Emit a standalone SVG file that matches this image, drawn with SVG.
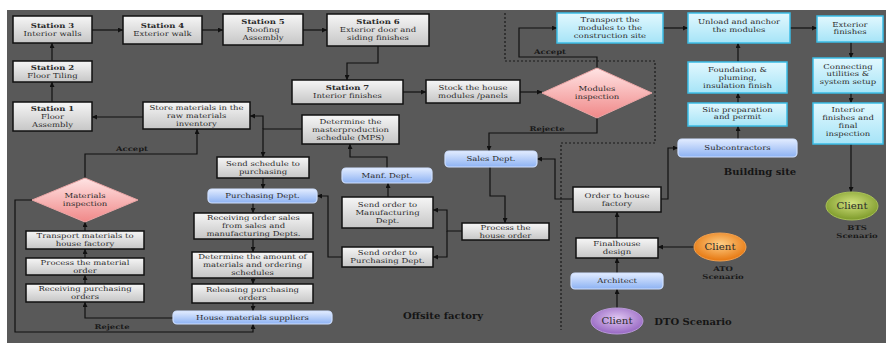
<svg xmlns="http://www.w3.org/2000/svg" width="886" height="343" viewBox="0 0 886 343">
<defs>
<linearGradient id="gg" x1="0" y1="0" x2="0" y2="1"><stop offset="0" stop-color="#f6f6f6"/><stop offset="1" stop-color="#c6c6c6"/></linearGradient>
<linearGradient id="gb" x1="0" y1="0" x2="0" y2="1"><stop offset="0" stop-color="#e2ecff"/><stop offset="1" stop-color="#8db2f3"/></linearGradient>
<linearGradient id="gc" x1="0" y1="0" x2="0" y2="1"><stop offset="0" stop-color="#e2f8fe"/><stop offset="1" stop-color="#a6e4f7"/></linearGradient>
<linearGradient id="gd" x1="0" y1="0" x2="0" y2="1"><stop offset="0" stop-color="#ffe4e4"/><stop offset="1" stop-color="#f08888"/></linearGradient>
<radialGradient id="ggreen" cx="0.5" cy="0.4" r="0.6"><stop offset="0" stop-color="#d2e27e"/><stop offset="1" stop-color="#7d9a2a"/></radialGradient>
<radialGradient id="gorange" cx="0.5" cy="0.4" r="0.6"><stop offset="0" stop-color="#ffcf86"/><stop offset="1" stop-color="#e6760e"/></radialGradient>
<radialGradient id="gpurple" cx="0.5" cy="0.4" r="0.6"><stop offset="0" stop-color="#e0c6f2"/><stop offset="1" stop-color="#9666c2"/></radialGradient>
<marker id="ar" viewBox="0 0 6 6" refX="6" refY="3" markerWidth="5" markerHeight="5" markerUnits="userSpaceOnUse" orient="auto"><path d="M0,0 L6,3 L0,6 z" fill="#111"/></marker>
</defs>
<style>
.g{fill:url(#gg);stroke:#111;stroke-width:1.5}
.b{fill:url(#gb);stroke:#cfe0ff;stroke-width:1.2}
.c{fill:url(#gc);stroke:#3bbde6;stroke-width:1.5}
.d{fill:url(#gd);stroke:#e9a5a5;stroke-width:1}
.t{font-family:"DejaVu Serif","Liberation Serif",serif;font-size:6.8px;fill:#2a2a2a;text-anchor:middle}
.tb{font-weight:bold}
.lab{font-family:"DejaVu Serif","Liberation Serif",serif;font-size:10px;font-weight:bold;fill:#151515;text-anchor:middle}
.sm{font-family:"DejaVu Serif","Liberation Serif",serif;font-size:6.5px;font-weight:bold;fill:#1a1a1a;text-anchor:middle}
.cl{font-family:"DejaVu Serif","Liberation Serif",serif;font-size:8.5px;fill:#2a2a2a;text-anchor:middle}
#connectors path{fill:none;stroke:#111;stroke-width:1.2}
#connectors path.a{marker-end:url(#ar)}
#boundary{fill:none;stroke:#1a1a1a;stroke-width:1.2;stroke-dasharray:2,2}
</style>
<rect x="0" y="0" width="886" height="343" fill="#ffffff"/>
<rect x="7" y="10" width="879" height="333" fill="#595959"/>
<path id="boundary" d="M505,13 V61 H655 V143 H561 V330"/>
<g id="connectors">
<path class="a" d="M52,102 V82"/>
<path class="a" d="M52,61 V43"/>
<path class="a" d="M92,30 H123"/>
<path class="a" d="M202,30 H223"/>
<path class="a" d="M303,30 H327"/>
<path class="a" d="M378,46 V63 H347 V80"/>
<path class="a" d="M403,92 H426"/>
<path class="a" d="M520,92 H542"/>
<path class="a" d="M597,68 V57 H519 V28 H557"/>
<path class="a" d="M597,118 V133 H489 V151"/>
<path class="a" d="M143,117 H92"/>
<path class="a" d="M302,129 H263 V157"/>
<path class="a" d="M263,129 V116 H250"/>
<path class="a" d="M85,178 V154 H197 V129"/>
<path class="a" d="M263,178 V189"/>
<path class="a" d="M253,203 V213"/>
<path class="a" d="M253,239 V252"/>
<path class="a" d="M253,278 V284"/>
<path class="a" d="M253,303 V311"/>
<path class="a" d="M173,318 H85 V302"/>
<path class="a" d="M85,284 V275"/>
<path class="a" d="M85,258 V249"/>
<path class="a" d="M85,231 V222"/>
<path class="a" d="M32,200 H15 V332 H253 V324"/>
<path class="a" d="M388,197 V183"/>
<path class="a" d="M387,168 V157 H350 V144"/>
<path class="a" d="M342,257 H328 V196 H317"/>
<path class="a" d="M462,231 H447 V210 H433"/>
<path class="a" d="M447,231 V257 H433"/>
<path class="a" d="M490,167 V196 H505 V223"/>
<path class="a" d="M573,199 H555 V159 H537"/>
<path class="a" d="M661,199 H668 V148 H678"/>
<path class="a" d="M617,238 V212"/>
<path class="a" d="M617,273 V258"/>
<path class="a" d="M617,308 V289"/>
<path class="a" d="M694,247 H658"/>
<path class="a" d="M663,28 H688"/>
<path class="a" d="M790,28 H817"/>
<path class="a" d="M738,62 V43"/>
<path class="a" d="M738,103 V93"/>
<path class="a" d="M738,139 V126"/>
<path class="a" d="M851,42 V58"/>
<path class="a" d="M851,93 V103"/>
<path class="a" d="M851,144 V192"/>
<text class="sm" transform="translate(132,151) scale(1.3,1)">Accept</text>
<text class="sm" transform="translate(550,54) scale(1.3,1)">Accept</text>
<text class="sm" transform="translate(547,130.5) scale(1.3,1)">Rejecte</text>
<text class="sm" transform="translate(112,329) scale(1.3,1)">Rejecte</text>
</g>
<g id="st3"><rect class="g" x="13" y="16" width="79" height="27"/><text class="t" transform="translate(52.5,28) scale(1.25,1)"><tspan class="tb" x="0" y="0">Station 3</tspan><tspan x="0" y="8">Interior walls</tspan></text></g>
<g id="st4"><rect class="g" x="123" y="16" width="79" height="28"/><text class="t" transform="translate(162.5,28.4) scale(1.25,1)"><tspan class="tb" x="0" y="0">Station 4</tspan><tspan x="0" y="8">Exterior walk</tspan></text></g>
<g id="st5"><rect class="g" x="223" y="14" width="80" height="31"/><text class="t" transform="translate(263,23.9) scale(1.25,1)"><tspan class="tb" x="0" y="0">Station 5</tspan><tspan x="0" y="8">Roofing</tspan><tspan x="0" y="16">Assembly</tspan></text></g>
<g id="st6"><rect class="g" x="327" y="14" width="102" height="32"/><text class="t" transform="translate(378,24.4) scale(1.25,1)"><tspan class="tb" x="0" y="0">Station 6</tspan><tspan x="0" y="8">Exterior door and</tspan><tspan x="0" y="16">siding finishes</tspan></text></g>
<g id="st7"><rect class="g" x="292" y="80" width="111" height="24"/><text class="t" transform="translate(347.5,90.4) scale(1.25,1)"><tspan class="tb" x="0" y="0">Station 7</tspan><tspan x="0" y="8">Interior finishes</tspan></text></g>
<g id="stock"><rect class="g" x="426" y="80" width="94" height="23"/><text class="t" transform="translate(473,89.9) scale(1.25,1)"><tspan x="0" y="0">Stock the house</tspan><tspan x="0" y="8">modules /panels</tspan></text></g>
<g id="st2"><rect class="g" x="13" y="61" width="79" height="21"/><text class="t" transform="translate(52.5,69.9) scale(1.25,1)"><tspan class="tb" x="0" y="0">Station 2</tspan><tspan x="0" y="8">Floor Tiling</tspan></text></g>
<g id="st1"><rect class="g" x="13" y="102" width="79" height="29"/><text class="t" transform="translate(52.5,110.9) scale(1.25,1)"><tspan class="tb" x="0" y="0">Station 1</tspan><tspan x="0" y="8">Floor</tspan><tspan x="0" y="16">Assembly</tspan></text></g>
<g id="store"><rect class="g" x="143" y="102" width="107" height="27"/><text class="t" transform="translate(196.5,109.9) scale(1.25,1)"><tspan x="0" y="0">Store materials in the</tspan><tspan x="0" y="8">raw materials</tspan><tspan x="0" y="16">inventory</tspan></text></g>
<g id="mps"><rect class="g" x="302" y="115" width="97" height="29"/><text class="t" transform="translate(350.5,123.9) scale(1.25,1)"><tspan x="0" y="0">Determine the</tspan><tspan x="0" y="8">masterproduction</tspan><tspan x="0" y="16">schedule (MPS)</tspan></text></g>
<g id="sendsch"><rect class="g" x="217" y="157" width="92" height="21"/><text class="t" transform="translate(263,165.9) scale(1.25,1)"><tspan x="0" y="0">Send schedule to</tspan><tspan x="0" y="8">purchasing</tspan></text></g>
<g id="purch"><rect class="b" x="208" y="189" width="109" height="14" rx="4"/><text class="t" transform="translate(262.5,198.4) scale(1.25,1)">Purchasing Dept.</text></g>
<g id="recv"><rect class="g" x="194" y="213" width="119" height="26"/><text class="t" transform="translate(253.5,220.4) scale(1.25,1)"><tspan x="0" y="0">Receiving order sales</tspan><tspan x="0" y="8">from sales and</tspan><tspan x="0" y="16">manufacturing Depts.</tspan></text></g>
<g id="amount"><rect class="g" x="192" y="252" width="121" height="26"/><text class="t" transform="translate(252.5,259.4) scale(1.25,1)"><tspan x="0" y="0">Determine the amount of</tspan><tspan x="0" y="8">materials and ordering</tspan><tspan x="0" y="16">schedules</tspan></text></g>
<g id="release"><rect class="g" x="192" y="284" width="121" height="19"/><text class="t" transform="translate(252.5,291.9) scale(1.25,1)"><tspan x="0" y="0">Releasing purchasing</tspan><tspan x="0" y="8">orders</tspan></text></g>
<g id="suppliers"><rect class="b" x="173" y="311" width="159" height="13" rx="4"/><text class="t" transform="translate(252.5,319.9) scale(1.25,1)">House materials suppliers</text></g>
<g id="transportMat"><rect class="g" x="26" y="231" width="118" height="18"/><text class="t" transform="translate(85,238.4) scale(1.25,1)"><tspan x="0" y="0">Transport materials to</tspan><tspan x="0" y="8">house factory</tspan></text></g>
<g id="processMat"><rect class="g" x="26" y="258" width="118" height="17"/><text class="t" transform="translate(85,264.9) scale(1.25,1)"><tspan x="0" y="0">Process the material</tspan><tspan x="0" y="8">order</tspan></text></g>
<g id="recvPO"><rect class="g" x="26" y="284" width="118" height="18"/><text class="t" transform="translate(85,291.4) scale(1.25,1)"><tspan x="0" y="0">Receiving purchasing</tspan><tspan x="0" y="8">orders</tspan></text></g>
<g id="matInsp"><polygon class="d" points="85,178 138,200 85,222 32,200"/><text class="t" transform="translate(85,198.4) scale(1.25,1)"><tspan x="0" y="0">Materials</tspan><tspan x="0" y="8">inspection</tspan></text></g>
<g id="manf"><rect class="b" x="342" y="168" width="90" height="15" rx="4"/><text class="t" transform="translate(387,177.9) scale(1.25,1)">Manf. Dept.</text></g>
<g id="sendManf"><rect class="g" x="342" y="197" width="91" height="31"/><text class="t" transform="translate(387.5,206.9) scale(1.25,1)"><tspan x="0" y="0">Send order to</tspan><tspan x="0" y="8">Manufacturing</tspan><tspan x="0" y="16">Dept.</tspan></text></g>
<g id="sendPur"><rect class="g" x="342" y="247" width="91" height="20"/><text class="t" transform="translate(387.5,255.4) scale(1.25,1)"><tspan x="0" y="0">Send order to</tspan><tspan x="0" y="8">Purchasing Dept.</tspan></text></g>
<g id="procHouse"><rect class="g" x="462" y="223" width="87" height="17"/><text class="t" transform="translate(505.5,229.9) scale(1.25,1)"><tspan x="0" y="0">Process the</tspan><tspan x="0" y="8">house order</tspan></text></g>
<g id="sales"><rect class="b" x="445" y="151" width="92" height="16" rx="4"/><text class="t" transform="translate(491,161.4) scale(1.25,1)">Sales Dept.</text></g>
<g id="modInsp"><polygon class="d" points="597,68 652,93 597,118 542,93"/><text class="t" transform="translate(597,91.4) scale(1.25,1)"><tspan x="0" y="0">Modules</tspan><tspan x="0" y="8">inspection</tspan></text></g>
<g id="order"><rect class="g" x="573" y="187" width="88" height="25"/><text class="t" transform="translate(617,197.9) scale(1.25,1)"><tspan x="0" y="0">Order to house</tspan><tspan x="0" y="8">factory</tspan></text></g>
<g id="final"><rect class="g" x="576" y="238" width="82" height="20"/><text class="t" transform="translate(617,246.4) scale(1.25,1)"><tspan x="0" y="0">Finalhouse</tspan><tspan x="0" y="8">design</tspan></text></g>
<g id="arch"><rect class="b" x="571" y="273" width="92" height="16" rx="4"/><text class="t" transform="translate(617,283.4) scale(1.25,1)">Architect</text></g>
<g id="clientDTO"><ellipse cx="617" cy="321" rx="26" ry="13" fill="url(#gpurple)" stroke="#b898d8" stroke-width="1"/><text class="cl" transform="translate(617,324) scale(1.2,1)">Client</text></g>
<g id="clientATO"><ellipse cx="720" cy="247" rx="26" ry="14" fill="url(#gorange)" stroke="#f0a050" stroke-width="1"/><text class="cl" transform="translate(720,250) scale(1.2,1)">Client</text></g>
<g id="clientBTS"><ellipse cx="852" cy="206" rx="26" ry="14" fill="url(#ggreen)" stroke="#a8c058" stroke-width="1"/><text class="cl" transform="translate(852,209) scale(1.2,1)">Client</text></g>
<g id="transportMod"><rect class="c" x="557" y="13" width="106" height="30"/><text class="t" transform="translate(610,22.4) scale(1.25,1)"><tspan x="0" y="0">Transport the</tspan><tspan x="0" y="8">modules to the</tspan><tspan x="0" y="16">construction site</tspan></text></g>
<g id="unload"><rect class="c" x="688" y="13" width="102" height="30"/><text class="t" transform="translate(739,24) scale(1.25,1)"><tspan x="0" y="0">Unload and anchor</tspan><tspan x="0" y="8">the modules</tspan></text></g>
<g id="ext"><rect class="c" x="817" y="16" width="66" height="26"/><text class="t" transform="translate(850,26.5) scale(1.25,1)"><tspan x="0" y="0">Exterior</tspan><tspan x="0" y="8">finishes</tspan></text></g>
<g id="found"><rect class="c" x="688" y="62" width="99" height="31"/><text class="t" transform="translate(737.5,71.9) scale(1.25,1)"><tspan x="0" y="0">Foundation &amp;</tspan><tspan x="0" y="8">pluming,</tspan><tspan x="0" y="16">insulation finish</tspan></text></g>
<g id="conn"><rect class="c" x="813" y="58" width="70" height="35"/><text class="t" transform="translate(848,68.5) scale(1.25,1)"><tspan x="0" y="0">Connecting</tspan><tspan x="0" y="8">utilities &amp;</tspan><tspan x="0" y="16">system setup</tspan></text></g>
<g id="site"><rect class="c" x="688" y="103" width="99" height="23"/><text class="t" transform="translate(737.5,111.5) scale(1.25,1)"><tspan x="0" y="0">Site preparation</tspan><tspan x="0" y="8">and permit</tspan></text></g>
<g id="interior"><rect class="c" x="813" y="103" width="70" height="41"/><text class="t" transform="translate(848,112) scale(1.25,1)"><tspan x="0" y="0">Interior</tspan><tspan x="0" y="8">finishes and</tspan><tspan x="0" y="16">final</tspan><tspan x="0" y="24">inspection</tspan></text></g>
<g id="sub"><rect class="b" x="678" y="139" width="119" height="18" rx="4"/><text class="t" transform="translate(737.5,150.4) scale(1.25,1)">Subcontractors</text></g>
<g id="labels">
<text class="lab" x="760" y="175">Building site</text>
<text class="lab" x="443" y="319">Offsite factory</text>
<text class="lab" x="693" y="325">DTO Scenario</text>
<text class="sm" transform="translate(723,271) scale(1.3,1)"><tspan x="0" y="0">ATO</tspan><tspan x="0" y="8">Scenario</tspan></text>
<text class="sm" transform="translate(857,230) scale(1.3,1)"><tspan x="0" y="0">BTS</tspan><tspan x="0" y="8.5">Scenario</tspan></text>
</g>
</svg>
